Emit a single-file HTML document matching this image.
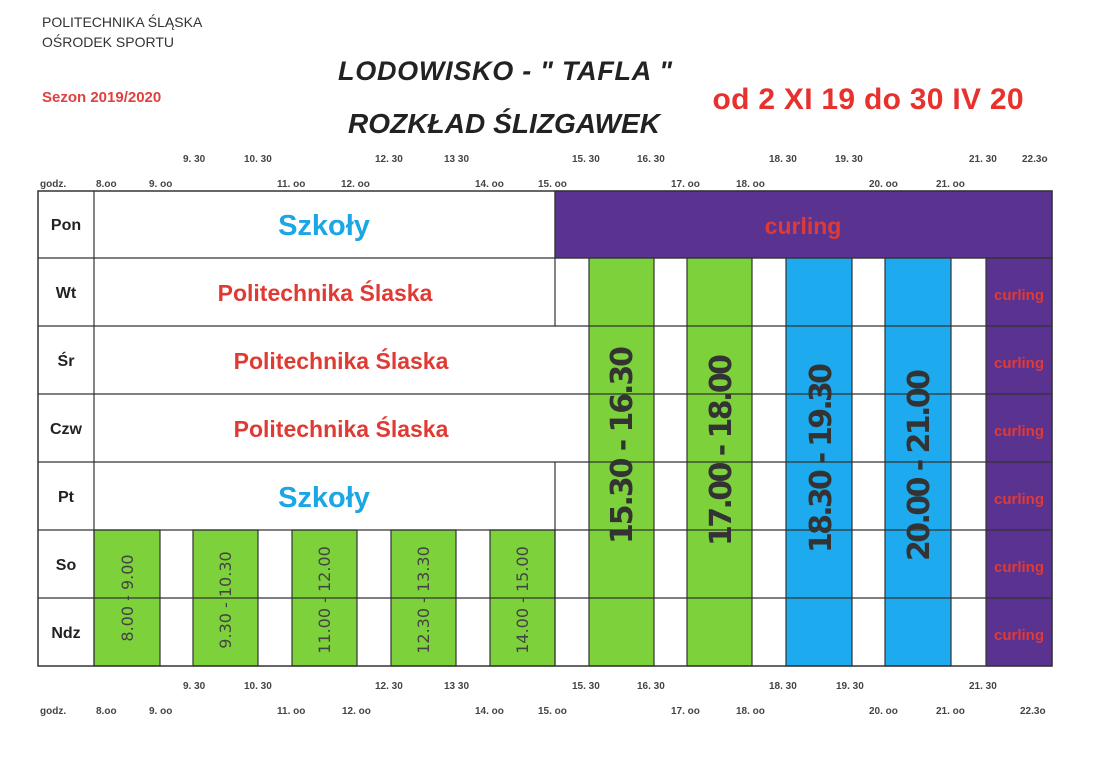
<!DOCTYPE html>
<html><head><meta charset="utf-8"><style>
body{margin:0;background:#fff;}
svg{display:block;font-family:"Liberation Sans",sans-serif;}
</style></head><body>
<svg width="1111" height="770" viewBox="0 0 1111 770">
<rect width="1111" height="770" fill="#fff"/>
<g font-weight="bold">
<text x="42" y="27" font-size="14" fill="#333" font-weight="normal">POLITECHNIKA ŚLĄSKA</text>
<text x="42" y="47" font-size="14" fill="#333" font-weight="normal">OŚRODEK SPORTU</text>
<text x="42" y="102" font-size="15" fill="#e04040">Sezon 2019/2020</text>
<text x="505" y="80" font-size="27" font-style="italic" fill="#222" text-anchor="middle" textLength="334">LODOWISKO - " TAFLA "</text>
<text x="504" y="133" font-size="28" font-style="italic" fill="#222" text-anchor="middle" textLength="312">ROZKŁAD ŚLIZGAWEK</text>
<text x="868" y="109" font-size="30" fill="#e8302c" text-anchor="middle" textLength="311">od 2 XI 19 do 30 IV 20</text>
</g>
<g font-size="10" font-weight="bold" fill="#444">
<text x="183" y="162">9. 30</text><text x="244" y="162">10. 30</text><text x="375" y="162">12. 30</text><text x="444" y="162">13 30</text><text x="572" y="162">15. 30</text><text x="637" y="162">16. 30</text><text x="769" y="162">18. 30</text><text x="835" y="162">19. 30</text><text x="969" y="162">21. 30</text><text x="1022" y="162">22.3o</text>
<text x="40" y="187">godz.</text><text x="96" y="187">8.oo</text><text x="149" y="187">9. oo</text><text x="277" y="187">11. oo</text><text x="341" y="187">12. oo</text><text x="475" y="187">14. oo</text><text x="538" y="187">15. oo</text><text x="671" y="187">17. oo</text><text x="736" y="187">18. oo</text><text x="869" y="187">20. oo</text><text x="936" y="187">21. oo</text>
<text x="183" y="689">9. 30</text><text x="244" y="689">10. 30</text><text x="375" y="689">12. 30</text><text x="444" y="689">13 30</text><text x="572" y="689">15. 30</text><text x="637" y="689">16. 30</text><text x="769" y="689">18. 30</text><text x="836" y="689">19. 30</text><text x="969" y="689">21. 30</text>
<text x="40" y="714">godz.</text><text x="96" y="714">8.oo</text><text x="149" y="714">9. oo</text><text x="277" y="714">11. oo</text><text x="342" y="714">12. oo</text><text x="475" y="714">14. oo</text><text x="538" y="714">15. oo</text><text x="671" y="714">17. oo</text><text x="736" y="714">18. oo</text><text x="869" y="714">20. oo</text><text x="936" y="714">21. oo</text><text x="1020" y="714">22.3o</text>
</g>
<g stroke="#333" stroke-width="1.2">
<rect x="555" y="191" width="497" height="67" fill="#5a3290"/>
<rect x="986" y="258" width="66" height="408" fill="#5a3290"/>
<rect x="589" y="258" width="65" height="408" fill="#7dd13a"/>
<rect x="687" y="258" width="65" height="408" fill="#7dd13a"/>
<rect x="786" y="258" width="66" height="408" fill="#1eaaee"/>
<rect x="885" y="258" width="66" height="408" fill="#1eaaee"/>
<rect x="94" y="530" width="66" height="136" fill="#7dd13a"/>
<rect x="193" y="530" width="65" height="136" fill="#7dd13a"/>
<rect x="292" y="530" width="65" height="136" fill="#7dd13a"/>
<rect x="391" y="530" width="65" height="136" fill="#7dd13a"/>
<rect x="490" y="530" width="65" height="136" fill="#7dd13a"/>
<line x1="38" y1="258" x2="1052" y2="258"/><line x1="38" y1="326" x2="1052" y2="326"/><line x1="38" y1="394" x2="1052" y2="394"/><line x1="38" y1="462" x2="1052" y2="462"/><line x1="38" y1="530" x2="1052" y2="530"/><line x1="38" y1="598" x2="1052" y2="598"/>
<line x1="94" y1="191" x2="94" y2="666"/>
<line x1="555" y1="191" x2="555" y2="326"/><line x1="555" y1="462" x2="555" y2="666"/>
<rect x="38" y="191" width="1014" height="475" fill="none" stroke-width="1.5"/>
</g>
<g font-weight="bold" text-anchor="middle">
<g font-size="16" fill="#222"><text x="66" y="230">Pon</text><text x="66" y="298">Wt</text><text x="66" y="366">Śr</text><text x="66" y="434">Czw</text><text x="66" y="502">Pt</text><text x="66" y="570">So</text><text x="66" y="638">Ndz</text></g>
<text x="324" y="235" font-size="29" fill="#1ba6e6">Szkoły</text>
<text x="324" y="507" font-size="29" fill="#1ba6e6">Szkoły</text>
<text x="325" y="301" font-size="23" fill="#e03a34">Politechnika Ślaska</text>
<text x="341" y="369" font-size="23" fill="#e03a34">Politechnika Ślaska</text>
<text x="341" y="437" font-size="23" fill="#e03a34">Politechnika Ślaska</text>
<text x="803" y="234" font-size="23" fill="#e03a34">curling</text>
<g font-size="15" fill="#e03a34"><text x="1019" y="300">curling</text><text x="1019" y="368">curling</text><text x="1019" y="436">curling</text><text x="1019" y="504">curling</text><text x="1019" y="572">curling</text><text x="1019" y="640">curling</text></g>
<g font-family="DejaVu Sans,sans-serif" font-size="30" fill="#333">
<text transform="translate(632,445) rotate(-90)" textLength="198">15.30 - 16.30</text>
<text transform="translate(731,450) rotate(-90)" textLength="192">17.00 - 18.00</text>
<text transform="translate(831,458) rotate(-90)" textLength="190">18.30 - 19.30</text>
<text transform="translate(929,465) rotate(-90)" textLength="192">20.00 - 21.00</text>
</g>
<g font-family="DejaVu Sans,sans-serif" font-size="16" fill="#444" font-weight="normal">
<text transform="translate(133,598) rotate(-90)">8.00 - 9.00</text>
<text transform="translate(231,600) rotate(-90)">9.30 - 10.30</text>
<text transform="translate(330,600) rotate(-90)">11.00 - 12.00</text>
<text transform="translate(429,600) rotate(-90)">12.30 - 13.30</text>
<text transform="translate(528,600) rotate(-90)">14.00 - 15.00</text>
</g>
</g>
</svg>
</body></html>
